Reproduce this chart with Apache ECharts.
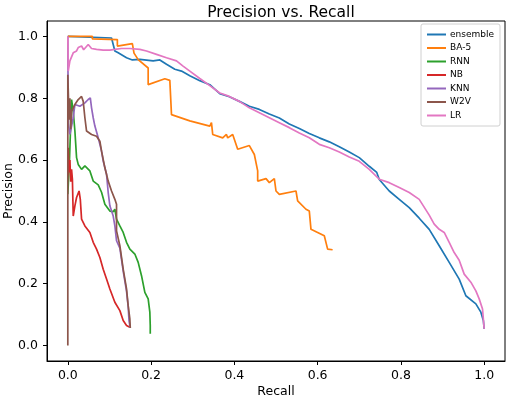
<!DOCTYPE html>
<html>
<head>
<meta charset="utf-8">
<script src="https://cdn.jsdelivr.net/npm/echarts@6/dist/echarts.min.js"></script>
<style>html,body{margin:0;padding:0;background:#fff}#c{width:506px;height:398px}</style>
</head>
<body>
<div id="c"></div>
<script>
const title = "Precision vs. Recall";
const xTicks = [0, 0.2, 0.4, 0.6, 0.8, 1.0];
const yTicks = [0, 0.2, 0.4, 0.6, 0.8, 1.0];
const seriesNames = ["ensemble", "BA-5", "RNN", "NB", "KNN", "W2V", "LR"];
const seriesColors = ["#1f77b4", "#ff7f0e", "#2ca02c", "#d62728", "#9467bd", "#8c564b", "#e377c2"];

const ensembleRecall = [0, 0.105, 0.113, 0.121, 0.141, 0.155, 0.173, 0.205, 0.221, 0.237, 0.257, 0.273, 0.293, 0.317, 0.341, 0.365, 0.388, 0.412, 0.436, 0.460, 0.484, 0.508, 0.532, 0.556, 0.580, 0.604, 0.628, 0.652, 0.676, 0.700, 0.724, 0.742, 0.748, 0.772, 0.796, 0.820, 0.844, 0.868, 0.892, 0.916, 0.940, 0.956, 0.980, 0.992, 0.998, 1.0];
const ensemblePrecision = [1.0, 0.995, 0.953, 0.947, 0.931, 0.924, 0.926, 0.921, 0.924, 0.910, 0.894, 0.888, 0.873, 0.857, 0.844, 0.815, 0.805, 0.790, 0.774, 0.764, 0.749, 0.736, 0.717, 0.702, 0.686, 0.672, 0.659, 0.643, 0.626, 0.608, 0.580, 0.560, 0.537, 0.500, 0.473, 0.446, 0.412, 0.376, 0.323, 0.269, 0.215, 0.161, 0.135, 0.108, 0.081, 0.054];

const ba5Recall = [0, 0.059, 0.059, 0.119, 0.119, 0.155, 0.159, 0.159, 0.169, 0.193, 0.193, 0.233, 0.245, 0.249, 0.293, 0.341, 0.345, 0.348, 0.372, 0.381, 0.384, 0.396, 0.408, 0.436, 0.448, 0.456, 0.456, 0.476, 0.484, 0.496, 0.500, 0.508, 0.548, 0.552, 0.572, 0.580, 0.584, 0.600, 0.616, 0.624, 0.636];
const ba5Precision = [1.0, 1.0, 0.992, 0.99, 0.969, 0.977, 0.975, 0.946, 0.925, 0.898, 0.844, 0.863, 0.858, 0.747, 0.727, 0.710, 0.721, 0.683, 0.672, 0.683, 0.672, 0.683, 0.635, 0.647, 0.618, 0.565, 0.532, 0.540, 0.527, 0.540, 0.500, 0.489, 0.500, 0.468, 0.441, 0.435, 0.376, 0.366, 0.355, 0.312, 0.310];

const rnnRecall = [0, 0.004, 0.007, 0.009, 0.013, 0.017, 0.021, 0.025, 0.033, 0.041, 0.045, 0.053, 0.061, 0.073, 0.081, 0.089, 0.101, 0.109, 0.113, 0.117, 0.125, 0.133, 0.141, 0.149, 0.161, 0.169, 0.177, 0.185, 0.193, 0.197, 0.198, 0.198];
const rnnPrecision = [0.49, 0.60, 0.72, 0.796, 0.758, 0.694, 0.608, 0.586, 0.570, 0.581, 0.586, 0.565, 0.532, 0.520, 0.496, 0.457, 0.435, 0.433, 0.441, 0.409, 0.387, 0.366, 0.334, 0.312, 0.296, 0.269, 0.226, 0.172, 0.151, 0.108, 0.065, 0.038];

const nbRecall = [0, 0.001, 0.003, 0.005, 0.007, 0.009, 0.011, 0.013, 0.017, 0.021, 0.027, 0.030, 0.033, 0.041, 0.053, 0.061, 0.069, 0.077, 0.085, 0.093, 0.101, 0.113, 0.125, 0.133, 0.141, 0.149];
const nbPrecision = [0.55, 0.64, 0.56, 0.60, 0.53, 0.57, 0.538, 0.419, 0.452, 0.479, 0.500, 0.473, 0.409, 0.387, 0.366, 0.334, 0.312, 0.285, 0.247, 0.215, 0.183, 0.140, 0.113, 0.081, 0.065, 0.059];

const knnRecall = [0, 0.001, 0.005, 0.013, 0.017, 0.029, 0.041, 0.049, 0.054, 0.057, 0.061, 0.065, 0.073, 0.077, 0.081, 0.085, 0.093, 0.097, 0.101, 0.109, 0.113, 0.117, 0.125, 0.133, 0.141, 0.145, 0.147, 0.150];
const knnPrecision = [1.0, 0.72, 0.683, 0.737, 0.780, 0.774, 0.785, 0.796, 0.801, 0.769, 0.737, 0.710, 0.672, 0.651, 0.629, 0.597, 0.554, 0.495, 0.452, 0.419, 0.387, 0.339, 0.315, 0.241, 0.176, 0.125, 0.080, 0.057];

const w2vRecall = [0, 0, 0.003, 0.005, 0.007, 0.009, 0.017, 0.025, 0.033, 0.037, 0.041, 0.045, 0.057, 0.069, 0.077, 0.081, 0.089, 0.097, 0.105, 0.113, 0.117, 0.117, 0.125, 0.133, 0.141, 0.145, 0.149, 0.150];
const w2vPrecision = [0, 0.876, 0.731, 0.80, 0.70, 0.758, 0.780, 0.796, 0.806, 0.790, 0.737, 0.694, 0.683, 0.677, 0.661, 0.629, 0.575, 0.532, 0.500, 0.473, 0.457, 0.371, 0.323, 0.247, 0.183, 0.129, 0.086, 0.057];

const lrRecall = [0, 0.001, 0.005, 0.013, 0.021, 0.025, 0.033, 0.038, 0.049, 0.057, 0.069, 0.085, 0.101, 0.113, 0.129, 0.149, 0.173, 0.189, 0.213, 0.237, 0.261, 0.276, 0.293, 0.317, 0.341, 0.365, 0.388, 0.412, 0.436, 0.460, 0.484, 0.508, 0.532, 0.556, 0.580, 0.604, 0.628, 0.652, 0.676, 0.700, 0.724, 0.748, 0.772, 0.796, 0.820, 0.844, 0.868, 0.880, 0.892, 0.904, 0.916, 0.928, 0.940, 0.952, 0.968, 0.980, 0.988, 0.996, 0.998, 1.0];
const lrPrecision = [1.0, 0.888, 0.921, 0.947, 0.953, 0.964, 0.969, 0.957, 0.974, 0.961, 0.958, 0.956, 0.956, 0.958, 0.961, 0.961, 0.958, 0.953, 0.942, 0.931, 0.921, 0.905, 0.888, 0.864, 0.841, 0.817, 0.806, 0.790, 0.769, 0.753, 0.737, 0.721, 0.705, 0.688, 0.672, 0.651, 0.640, 0.626, 0.610, 0.596, 0.570, 0.538, 0.527, 0.511, 0.495, 0.473, 0.422, 0.393, 0.376, 0.366, 0.334, 0.301, 0.276, 0.231, 0.205, 0.177, 0.151, 0.118, 0.086, 0.054];

const recalls = [ensembleRecall, ba5Recall, rnnRecall, nbRecall, knnRecall, w2vRecall, lrRecall];
const precisions = [ensemblePrecision, ba5Precision, rnnPrecision, nbPrecision, knnPrecision, w2vPrecision, lrPrecision];

const FONT = "DejaVu Sans";
const chart = echarts.init(document.getElementById('c'), null, {renderer: 'canvas'});
const series = seriesNames.map((n, i) => ({
  name: n,
  type: 'line',
  data: recalls[i].map((r, k) => [r, precisions[i][k]]),
  showSymbol: false,
  symbol: 'none',
  lineStyle: {width: 1.7, color: seriesColors[i]},
  itemStyle: {color: seriesColors[i]},
  z: 2 + i,
  clip: true
}));
const fmt = v => v.toFixed(1);
chart.setOption({
  animation: false,
  backgroundColor: '#fff',
  textStyle: {fontFamily: FONT},
  title: {
    text: title, left: 276, top: 0, textAlign: 'center',
    textStyle: {fontFamily: FONT, fontSize: 15.5, fontWeight: 'normal', color: '#000'}
  },
  legend: {
    orient: 'vertical', left: 421, top: 24,
    data: seriesNames,
    icon: 'rect', itemWidth: 19, itemHeight: 2, itemGap: 2.5,
    padding: [5, 6, 5, 6],
    borderColor: '#d0d0d0', borderWidth: 1, borderRadius: 2,
    backgroundColor: 'rgba(255,255,255,0.8)',
    textStyle: {fontFamily: FONT, fontSize: 9, color: '#000', lineHeight: 11, padding: [0,0,0,-1]}
  },
  grid: {left: 47, right: 1, top: 21, bottom: 37, show: true, borderColor: '#000', borderWidth: 1, containLabel: false, outerBoundsMode: 'none'},
  xAxis: {
    type: 'value', min: -0.05, max: 1.05,
    name: 'Recall', nameLocation: 'middle', nameGap: 24, nameMoveOverlap: false,
    nameTextStyle: {fontFamily: FONT, fontSize: 12.5, color: '#000'},
    axisLine: {show: true, onZero: false, lineStyle: {color: '#000', width: 1}},
    axisTick: {show: true, length: 4, customValues: xTicks, lineStyle: {color: '#000'}},
    axisLabel: {customValues: xTicks, formatter: fmt, fontFamily: FONT, fontSize: 12.5, color: '#000', margin: 8},
    splitLine: {show: false}
  },
  yAxis: {
    type: 'value', min: -0.05, max: 1.05,
    name: 'Precision', nameLocation: 'middle', nameGap: 32, nameRotate: 90, nameMoveOverlap: false,
    nameTextStyle: {fontFamily: FONT, fontSize: 12.5, color: '#000'},
    axisLine: {show: true, onZero: false, lineStyle: {color: '#000', width: 1}},
    axisTick: {show: true, length: 4, customValues: yTicks, lineStyle: {color: '#000'}},
    axisLabel: {customValues: yTicks, formatter: fmt, fontFamily: FONT, fontSize: 12.5, color: '#000', margin: 9},
    splitLine: {show: false}
  },
  series: series
});
</script>
</body>
</html>
